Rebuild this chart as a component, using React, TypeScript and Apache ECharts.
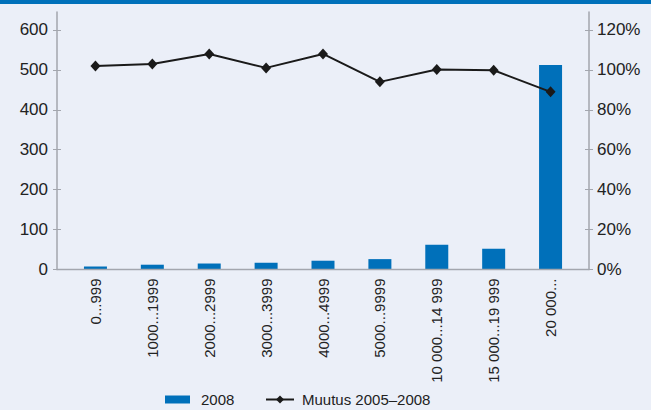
import React, { useEffect, useRef } from "react";
import * as echarts from "echarts";

const categories = [
  "0...999",
  "1000...1999",
  "2000...2999",
  "3000...3999",
  "4000...4999",
  "5000...9999",
  "10 000...14 999",
  "15 000...19 999",
  "20 000...",
];
const bars2008 = [7.5, 12, 15, 17, 22, 26, 62, 52, 512];
const change0508 = [102, 103, 108, 101, 108, 94, 100.2, 99.8, 89];
const leftTicks = [0, 100, 200, 300, 400, 500, 600];
const rightTicks = [0, 20, 40, 60, 80, 100, 120];

const BLUE = "#0070BA";
const BG = "#EBEFF8";
const AXIS = "#A3A6AE";
const TEXT = "#222222";
const FONT = "Liberation Sans, Arial, sans-serif";

export default function App() {
  const ref = useRef<HTMLDivElement>(null);
  useEffect(() => {
    if (!ref.current) return;
    const chart = echarts.init(ref.current, undefined, { renderer: "svg" });
    const yBase = (pos: "left" | "right", max: number) => ({
      type: "value" as const,
      position: pos,
      offset: 10,
      min: 0,
      max,
      splitLine: { show: false },
    });
    chart.setOption({
      animation: false,
      backgroundColor: BG,
      textStyle: { fontFamily: FONT },
      grid: { left: 67, right: 72, top: 12, bottom: 140.5, containLabel: false },
      legend: [
        {
          data: ["2008"],
          left: 165,
          top: 392,
          padding: 0,
          itemWidth: 25,
          itemHeight: 8,
          icon: "rect",
          textStyle: { fontSize: 15, color: TEXT, fontFamily: FONT, padding: [0, 0, 0, 6] },
        },
        {
          data: ["Muutus 2005–2008"],
          left: 265,
          top: 392,
          padding: 0,
          itemWidth: 28,
          itemHeight: 10,
          textStyle: { fontSize: 15, color: TEXT, fontFamily: FONT, padding: [0, 0, 0, 3] },
        },
      ],
      xAxis: {
        type: "category",
        data: categories,
        axisLine: { show: false },
        axisTick: { show: false },
        axisLabel: {
          rotate: 90,
          margin: 9,
          fontSize: 15,
          color: TEXT,
          fontFamily: FONT,
          interval: 0,
        },
      },
      yAxis: [
        {
          ...yBase("left", 645),
          axisLine: { show: true, lineStyle: { color: AXIS, width: 1.5 } },
          axisTick: { show: true, length: 4, lineStyle: { color: AXIS }, customValues: leftTicks },
          axisLabel: { margin: 9, fontSize: 17, color: TEXT, fontFamily: FONT, customValues: leftTicks },
        },
        {
          ...yBase("right", 129),
          axisLine: { show: true, lineStyle: { color: AXIS, width: 1.5 } },
          axisTick: { show: true, length: 4, lineStyle: { color: AXIS }, customValues: rightTicks },
          axisLabel: {
            margin: 8,
            fontSize: 17,
            color: TEXT,
            fontFamily: FONT,
            formatter: "{value}%",
            customValues: rightTicks,
          },
        },
        {
          ...yBase("left", 645),
          axisLine: { show: false },
          axisTick: { show: true, inside: true, length: 4, lineStyle: { color: AXIS }, customValues: leftTicks },
          axisLabel: { show: false },
        },
        {
          ...yBase("right", 129),
          axisLine: { show: false },
          axisTick: { show: true, inside: true, length: 4, lineStyle: { color: AXIS }, customValues: rightTicks },
          axisLabel: { show: false },
        },
      ],
      graphic: [
        {
          type: "rect",
          shape: { x: 0, y: 0, width: 651, height: 4 },
          style: { fill: BLUE },
        },
        {
          type: "line",
          shape: { x1: 56.5, y1: 269.5, x2: 589.5, y2: 269.5 },
          style: { stroke: AXIS, lineWidth: 1.5 },
          z: 10,
        },
      ],
      series: [
        {
          name: "2008",
          type: "bar",
          data: bars2008,
          yAxisIndex: 0,
          barWidth: 23,
          itemStyle: { color: BLUE },
        },
        {
          name: "Muutus 2005–2008",
          type: "line",
          data: change0508,
          yAxisIndex: 1,
          symbol: "diamond",
          symbolSize: [10, 11],
          lineStyle: { color: "#1A1A1A", width: 2 },
          itemStyle: { color: "#1A1A1A" },
          z: 5,
        },
      ],
    });
    return () => chart.dispose();
  }, []);
  return (
    <div
      ref={ref}
      style={{ position: "fixed", left: 0, top: 0, width: 651, height: 410 }}
    />
  );
}
